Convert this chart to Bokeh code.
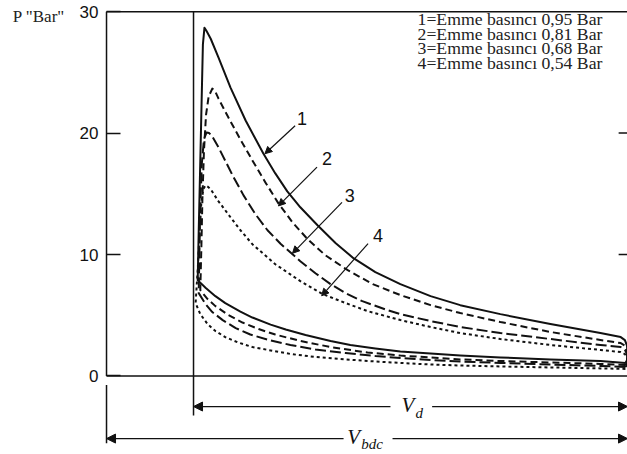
from bokeh.plotting import figure
from bokeh.models import Range1d, FixedTicker, Label, Arrow, NormalHead
from bokeh.core.properties import value
from bokeh.embed import file_html
from bokeh.resources import INLINE

# ---- data: volume as fraction of V_bdc, pressure in bar ----
Vc = 0.167      # clearance volume (TDC)
Vbdc = 1.0      # bottom dead centre volume

# curve 1 (intake 0.95 bar): compression BDC->TDC, combustion, expansion TDC->BDC, blow-down
V1 = [0.996, 0.948, 0.852, 0.756, 0.679, 0.622, 0.564, 0.516, 0.468, 0.430, 0.382, 0.344,
      0.315, 0.280, 0.257, 0.228, 0.209, 0.190, 0.175,
      0.177, 0.180, 0.183, 0.185, 0.188, 0.192,
      0.200, 0.215, 0.238, 0.267, 0.301, 0.324, 0.347, 0.372, 0.405, 0.440, 0.474, 0.516,
      0.564, 0.622, 0.679, 0.756, 0.852, 0.948, 0.987,
      0.995, 0.999, 1.000, 0.999, 0.996]
P1 = [1.07, 1.23, 1.36, 1.52, 1.68, 1.85, 2.01, 2.26, 2.55, 2.88, 3.37, 3.82,
      4.23, 4.81, 5.30, 6.00, 6.57, 7.27, 7.89,
      12.0, 17.7, 23.5, 27.3, 28.68, 28.4,
      27.77, 26.21, 23.75, 21.04, 18.32, 16.68, 15.20, 13.89, 12.41, 10.93, 9.70, 8.55,
      7.56, 6.57, 5.83, 5.09, 4.27, 3.53, 3.20,
      2.95, 2.5, 1.8, 1.3, 1.07]

# curve 2 (intake 0.81 bar)
V2 = [0.996, 0.948, 0.852, 0.756, 0.679, 0.622, 0.564, 0.501, 0.430, 0.372, 0.324, 0.292,
      0.261, 0.234, 0.209, 0.194, 0.180,
      0.182, 0.184, 0.187, 0.191, 0.196, 0.203, 0.208,
      0.215, 0.234, 0.257, 0.280, 0.305, 0.330, 0.357, 0.386, 0.420, 0.463, 0.511,
      0.564, 0.622, 0.679, 0.756, 0.852, 0.948, 0.987,
      0.995, 0.999, 1.000, 0.999, 0.996]
P2 = [0.90, 0.99, 1.11, 1.23, 1.36, 1.52, 1.68, 1.93, 2.38, 2.88, 3.41, 3.86,
      4.40, 5.01, 5.75, 6.33, 7.07,
      10.5, 14.5, 18.5, 21.5, 23.0, 23.66, 23.5,
      22.84, 21.28, 19.47, 17.75, 15.94, 14.21, 12.65, 11.26, 9.94, 8.71, 7.56,
      6.66, 5.83, 5.18, 4.44, 3.62, 2.96, 2.71,
      2.5, 2.1, 1.5, 1.1, 0.90]

# curve 3 (intake 0.68 bar)
V3 = [0.996, 0.948, 0.852, 0.756, 0.679, 0.622, 0.564, 0.516, 0.459, 0.401, 0.353, 0.311,
      0.276, 0.248, 0.223, 0.203, 0.190, 0.177,
      0.178, 0.180, 0.183, 0.187, 0.192, 0.197,
      0.203, 0.215, 0.242, 0.263, 0.286, 0.309, 0.334, 0.357, 0.372, 0.401, 0.430, 0.459,
      0.491, 0.539, 0.564, 0.622, 0.679, 0.756, 0.852, 0.948, 0.987,
      0.995, 0.999, 1.000, 0.999, 0.996]
P3 = [0.74, 0.82, 0.94, 1.07, 1.19, 1.31, 1.48, 1.64, 1.89, 2.18, 2.55, 2.96,
      3.41, 3.94, 4.60, 5.26, 5.92, 6.82,
      9.5, 14.0, 17.5, 19.5, 20.05, 20.0,
      19.72, 18.82, 16.52, 14.87, 13.31, 12.00, 10.89, 10.02, 9.45, 8.46, 7.56, 6.82,
      6.16, 5.42, 5.09, 4.52, 4.03, 3.53, 3.04, 2.55, 2.38,
      2.15, 1.8, 1.3, 0.95, 0.74]

# curve 4 (intake 0.54 bar)
V4 = [0.996, 0.948, 0.852, 0.756, 0.679, 0.622, 0.564, 0.516, 0.459, 0.401, 0.353, 0.315,
      0.280, 0.253, 0.228, 0.209, 0.194, 0.180, 0.171,
      0.175, 0.179, 0.182, 0.186, 0.190, 0.194,
      0.200, 0.215, 0.238, 0.257, 0.280, 0.324, 0.372, 0.415, 0.459, 0.501,
      0.564, 0.622, 0.679, 0.756, 0.852, 0.948, 0.987,
      0.995, 0.999, 1.000, 0.999, 0.996]
P4 = [0.58, 0.62, 0.70, 0.78, 0.86, 0.94, 1.07, 1.19, 1.36, 1.56, 1.81, 2.10,
      2.38, 2.75, 3.20, 3.70, 4.27, 5.09, 6.00,
      8.7, 12.0, 14.3, 15.4, 15.69, 15.6,
      15.37, 14.38, 13.07, 12.00, 10.85, 9.20, 7.81, 6.74, 6.00, 5.34,
      4.60, 4.03, 3.53, 3.04, 2.55, 2.14, 1.97,
      1.8, 1.5, 1.0, 0.7, 0.58]

y_ticks = [0, 10, 20, 30]
y_title = 'P "Bar"'
legend_lines = ["1=Emme basıncı 0,95 Bar", "2=Emme basıncı 0,81 Bar",
                "3=Emme basıncı 0,68 Bar", "4=Emme basıncı 0,54 Bar"]
curve_names = ["1", "2", "3", "4"]
name_V = [0.375, 0.423, 0.467, 0.521]
name_P = [21.2, 17.9, 14.86, 11.57]
arrow_V0 = [0.362, 0.404, 0.452, 0.502]
arrow_P0 = [20.6, 17.2, 14.3, 10.9]
arrow_V1 = [0.304, 0.330, 0.357, 0.413]
arrow_P1 = [18.3, 14.0, 10.1, 6.6]

# ---- figure: the frame fills the page; the pressure axis sits at V = 0 ----
p = figure(width=627, height=454, x_range=Range1d(-0.2035, 1.0), y_range=Range1d(-6.47, 30.92),
           output_backend="svg", toolbar_location=None, x_axis_location=None,
           min_border_left=0, min_border_right=0, min_border_top=0, min_border_bottom=0)
p.grid.visible = False
p.outline_line_color = None
p.background_fill_color = "white"
p.border_fill_color = "white"

ink = "#111111"

ax = p.yaxis[0]
ax.fixed_location = 0
ax.ticker = FixedTicker(ticks=y_ticks)
ax.axis_line_color = None
ax.major_tick_in = 14
ax.major_tick_out = 0
ax.major_tick_line_color = ink
ax.major_tick_line_width = 1.5
ax.minor_tick_line_color = None
ax.major_label_text_font = "Liberation Sans"
ax.major_label_text_font_size = "17px"
ax.major_label_text_color = ink
ax.major_label_standoff = 8

# y title, level with the top of the scale
p.text(x=[-0.180], y=[29.6], text=[y_title], text_font=value("Liberation Serif"),
       text_font_size="17px", text_align="left", text_baseline="middle", text_color="#222222")

# frame pieces: left axis line, zero line, top line, TDC line, lower left piece
p.segment(x0=[0, 0, 0, Vc, 0], y0=[0, 0, y_ticks[-1], y_ticks[-1], -0.75],
          x1=[0, Vbdc, Vbdc, Vc, 0], y1=[y_ticks[-1], 0, y_ticks[-1], -3.25, -5.55],
          line_color=ink, line_width=1.5)
# small inward ticks of the (cut-off) right-hand scale
p.segment(x0=[Vbdc - 0.017] * 2, y0=y_ticks[1:3], x1=[Vbdc] * 2, y1=y_ticks[1:3],
          line_color=ink, line_width=1.5)

# curves
styles = [None, "7 4", "11 4", "3 3"]
for V, P, dash in zip([V1, V2, V3, V4], [P1, P2, P3, P4], styles):
    kw = dict(line_color=ink, line_width=2, line_join="round", line_cap="butt")
    if dash:
        kw["line_dash"] = dash
    p.line(V, P, **kw)

# curve number labels and arrows
p.text(x=name_V, y=name_P, text=curve_names, text_font=value("Liberation Sans"),
       text_font_size="18px", text_align="center", text_baseline="middle", text_color=ink)
for a, b, c, d in zip(arrow_V0, arrow_P0, arrow_V1, arrow_P1):
    p.add_layout(Arrow(end=NormalHead(size=7, fill_color=ink, line_color=ink, line_width=1),
                       x_start=a, y_start=b, x_end=c, y_end=d, line_color=ink, line_width=1.2))

# legend text (top right)
leg_y = [29.36 - 1.19 * i for i in range(len(legend_lines))]
p.text(x=[0.597] * len(legend_lines), y=leg_y, text=legend_lines,
       text_font=value("Liberation Serif"), text_font_size="17.7px",
       text_align="left", text_baseline="middle", text_color="#222222")

# V_d dimension arrow
yd = -2.52
p.add_layout(Arrow(end=NormalHead(size=9, fill_color=ink, line_color=ink), x_start=0.545, y_start=yd,
                   x_end=Vc, y_end=yd, line_color=ink, line_width=1.2))
p.add_layout(Arrow(end=NormalHead(size=9, fill_color=ink, line_color=ink), x_start=0.625, y_start=yd,
                   x_end=Vbdc, y_end=yd, line_color=ink, line_width=1.2))
p.add_layout(Label(x=0.566, y=yd + 0.1, text="V", text_font="Liberation Serif", text_font_style="italic",
                   text_font_size="21px", text_baseline="middle", text_color=ink))
p.add_layout(Label(x=0.593, y=yd - 0.5, text="d", text_font="Liberation Serif", text_font_style="italic",
                   text_font_size="15px", text_baseline="middle", text_color=ink))

# V_bdc dimension arrow
yb = -5.16
p.add_layout(Arrow(end=NormalHead(size=9, fill_color=ink, line_color=ink), x_start=0.455, y_start=yb,
                   x_end=0, y_end=yb, line_color=ink, line_width=1.2))
p.add_layout(Arrow(end=NormalHead(size=9, fill_color=ink, line_color=ink), x_start=0.549, y_start=yb,
                   x_end=Vbdc, y_end=yb, line_color=ink, line_width=1.2))
p.add_layout(Label(x=0.462, y=yb + 0.1, text="V", text_font="Liberation Serif", text_font_style="italic",
                   text_font_size="21px", text_baseline="middle", text_color=ink))
p.add_layout(Label(x=0.489, y=yb - 0.45, text="bdc", text_font="Liberation Serif", text_font_style="italic",
                   text_font_size="15px", text_baseline="middle", text_color=ink))

open("out.html", "w").write(file_html(p, INLINE))
